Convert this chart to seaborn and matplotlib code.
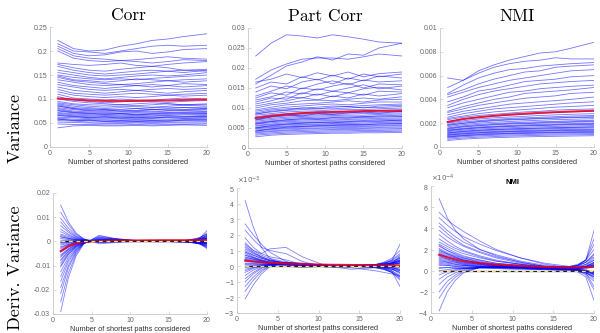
import numpy as np
import pandas as pd
import matplotlib
matplotlib.use("Agg")
import matplotlib.pyplot as plt
import seaborn as sns
from matplotlib.ticker import FuncFormatter, ScalarFormatter

# ---------------- data ----------------
X_TOP = [1, 3, 5, 7, 9, 11, 13, 15, 17, 20]
X_BOT = [1, 2, 3, 4, 6, 8, 11, 14, 17, 18, 19, 20]

# Corr variance (x 1e-3)
CORR_VAR = [
    [222, 205, 200, 202, 210, 215, 222, 225, 230, 236],
    [215, 200, 198, 195, 200, 205, 210, 212, 210, 212],
    [210, 195, 190, 192, 198, 200, 195, 198, 203, 205],
    [205, 190, 185, 183, 180, 182, 185, 188, 185, 183],
    [200, 185, 180, 178, 180, 178, 175, 178, 182, 180],
    [175, 172, 170, 172, 175, 170, 168, 172, 175, 178],
    [172, 165, 160, 158, 162, 165, 168, 165, 160, 162],
    [168, 160, 155, 152, 155, 158, 160, 158, 155, 160],
    [160, 155, 150, 148, 150, 152, 155, 158, 160, 158],
    [155, 150, 145, 142, 145, 148, 150, 148, 150, 155],
    [150, 145, 142, 140, 142, 140, 143, 145, 147, 150],
    [148, 140, 138, 135, 138, 142, 140, 138, 140, 142],
    [145, 138, 135, 132, 130, 132, 135, 138, 135, 138],
    [140, 135, 130, 128, 130, 128, 125, 128, 132, 130],
    [135, 128, 125, 122, 125, 128, 130, 128, 125, 128],
    [130, 125, 120, 118, 120, 118, 120, 122, 120, 122],
    [125, 118, 115, 112, 115, 118, 115, 112, 115, 118],
    [120, 112, 110, 108, 110, 112, 110, 108, 110, 112],
    [115, 108, 105, 103, 105, 103, 105, 108, 106, 108],
    [110, 102, 100, 98, 100, 98, 97, 100, 102, 100],
    [105, 98, 95, 92, 94, 96, 95, 93, 95, 97],
    [100, 95, 92, 90, 88, 90, 92, 90, 88, 90],
    [95, 90, 88, 87, 88, 86, 88, 90, 88, 88],
    [92, 88, 85, 83, 85, 84, 83, 85, 87, 85],
    [90, 85, 82, 80, 82, 80, 82, 83, 82, 83],
    [88, 82, 80, 78, 78, 80, 78, 80, 82, 80],
    [86, 80, 76, 78, 74, 76, 79, 76, 78, 80],
    [85, 80, 78, 76, 77, 75, 77, 78, 77, 78],
    [82, 78, 75, 74, 75, 74, 73, 75, 76, 75],
    [80, 75, 73, 72, 71, 72, 73, 72, 73, 74],
    [78, 73, 71, 70, 70, 69, 70, 71, 70, 72],
    [76, 72, 70, 68, 70, 67, 69, 70, 72, 70],
    [75, 71, 69, 68, 68, 67, 68, 68, 69, 70],
    [72, 69, 67, 66, 65, 66, 65, 66, 67, 68],
    [70, 67, 65, 64, 64, 63, 64, 65, 64, 66],
    [68, 65, 63, 62, 62, 61, 62, 62, 63, 64],
    [66, 64, 61, 63, 60, 62, 60, 63, 62, 64],
    [65, 63, 61, 60, 60, 59, 60, 61, 60, 62],
    [62, 61, 59, 58, 58, 57, 58, 58, 59, 60],
    [60, 58, 57, 56, 55, 56, 55, 56, 57, 58],
    [58, 55, 56, 53, 55, 53, 55, 54, 56, 57],
    [58, 56, 55, 54, 53, 54, 53, 54, 55, 55],
    [55, 54, 52, 52, 51, 52, 51, 52, 52, 53],
    [52, 51, 50, 49, 49, 50, 49, 50, 50, 50],
    [48, 47, 47, 46, 46, 47, 46, 47, 47, 48],
    [40, 44, 45, 44, 44, 45, 44, 45, 46, 45],
]
CORR_VAR_MEAN = [101, 99, 97, 96, 96, 96, 97, 97, 98, 99]

# Part Corr variance (x 1e-4)
PCORR_VAR = [
    [230, 262, 283, 280, 275, 283, 278, 272, 265, 262],
    [160, 182, 205, 215, 228, 220, 235, 232, 250, 262],
    [172, 195, 210, 222, 225, 225, 222, 228, 235, 230],
    [165, 172, 185, 176, 188, 180, 190, 178, 186, 190],
    [150, 165, 160, 178, 170, 182, 172, 185, 178, 185],
    [140, 155, 148, 165, 172, 160, 175, 168, 180, 175],
    [130, 142, 155, 148, 160, 168, 158, 170, 165, 168],
    [125, 138, 132, 150, 145, 155, 162, 150, 160, 158],
    [120, 128, 140, 135, 148, 142, 150, 158, 148, 155],
    [115, 125, 122, 138, 132, 142, 138, 148, 152, 145],
    [110, 118, 128, 125, 135, 128, 138, 132, 142, 140],
    [105, 112, 118, 126, 120, 130, 125, 135, 130, 136],
    [100, 108, 112, 118, 120, 118, 122, 125, 122, 128],
    [95, 102, 108, 110, 112, 115, 118, 115, 120, 122],
    [92, 98, 102, 105, 108, 110, 108, 112, 115, 115],
    [88, 95, 98, 100, 102, 105, 104, 106, 108, 110],
    [85, 92, 95, 100, 98, 102, 104, 100, 105, 107],
    [85, 90, 94, 96, 98, 98, 100, 102, 101, 104],
    [82, 86, 90, 92, 93, 95, 96, 96, 98, 100],
    [78, 83, 86, 88, 90, 90, 92, 93, 94, 96],
    [75, 80, 83, 85, 86, 87, 88, 90, 90, 92],
    [72, 77, 80, 82, 83, 84, 85, 86, 87, 88],
    [70, 78, 82, 80, 86, 84, 88, 90, 87, 92],
    [70, 74, 77, 79, 80, 81, 82, 82, 84, 85],
    [67, 71, 74, 76, 77, 78, 78, 79, 80, 82],
    [64, 68, 71, 73, 74, 75, 75, 76, 77, 78],
    [62, 66, 68, 70, 71, 72, 72, 73, 74, 75],
    [60, 66, 70, 73, 72, 76, 75, 78, 80, 79],
    [60, 63, 66, 67, 68, 69, 70, 70, 71, 72],
    [57, 60, 63, 64, 65, 66, 67, 67, 68, 69],
    [55, 58, 60, 62, 63, 63, 64, 65, 65, 66],
    [52, 55, 58, 59, 60, 61, 61, 62, 63, 63],
    [50, 56, 60, 62, 64, 63, 66, 68, 67, 70],
    [50, 53, 55, 57, 58, 58, 59, 59, 60, 61],
    [48, 51, 53, 54, 55, 56, 56, 57, 57, 58],
    [45, 48, 50, 52, 53, 53, 54, 54, 55, 56],
    [43, 46, 48, 49, 50, 51, 51, 52, 52, 53],
    [42, 48, 52, 54, 56, 57, 58, 58, 60, 61],
    [40, 43, 45, 47, 48, 48, 49, 49, 50, 50],
    [38, 41, 43, 44, 45, 46, 46, 47, 47, 48],
    [35, 38, 40, 41, 42, 43, 43, 44, 44, 45],
    [32, 35, 37, 38, 39, 40, 40, 41, 41, 42],
    [28, 32, 34, 35, 36, 37, 37, 38, 38, 39],
]
PCORR_VAR_MEAN = [75, 80, 84, 87, 89, 90, 91, 92, 93, 93]

# NMI variance (x 1e-5)
NMI_VAR = [
    [580, 560, 640, 690, 730, 760, 790, 800, 830, 880],
    [500, 560, 620, 670, 700, 720, 730, 750, 740, 740],
    [450, 520, 580, 620, 650, 660, 680, 690, 700, 710],
    [440, 480, 530, 570, 600, 630, 640, 670, 680, 690],
    [420, 460, 500, 530, 560, 580, 600, 620, 640, 650],
    [380, 420, 470, 490, 520, 550, 560, 570, 590, 600],
    [350, 400, 440, 470, 490, 510, 530, 540, 550, 560],
    [330, 370, 400, 430, 460, 470, 490, 500, 510, 520],
    [300, 340, 370, 400, 420, 450, 460, 470, 480, 500],
    [290, 320, 350, 370, 390, 410, 420, 430, 450, 460],
    [270, 300, 320, 340, 360, 370, 380, 390, 400, 420],
    [250, 280, 300, 320, 330, 340, 350, 360, 370, 380],
    [240, 260, 280, 295, 305, 315, 325, 335, 340, 350],
    [230, 250, 265, 275, 285, 295, 300, 310, 315, 320],
    [215, 235, 250, 260, 268, 275, 282, 290, 295, 300],
    [200, 220, 235, 245, 252, 258, 265, 270, 275, 280],
    [190, 210, 222, 232, 240, 245, 250, 255, 260, 265],
    [185, 200, 215, 225, 232, 236, 242, 245, 250, 255],
    [180, 198, 210, 220, 227, 232, 238, 242, 246, 250],
    [170, 188, 200, 208, 214, 220, 225, 230, 233, 238],
    [160, 178, 190, 197, 203, 208, 212, 216, 220, 225],
    [155, 172, 182, 190, 198, 200, 205, 210, 212, 218],
    [150, 168, 178, 186, 192, 196, 200, 204, 208, 212],
    [142, 158, 168, 175, 181, 186, 190, 193, 197, 200],
    [140, 152, 162, 170, 175, 180, 183, 188, 190, 195],
    [135, 150, 160, 166, 172, 176, 180, 183, 186, 190],
    [128, 142, 151, 157, 162, 166, 170, 173, 176, 180],
    [120, 134, 142, 148, 153, 157, 160, 163, 166, 170],
    [118, 130, 140, 146, 150, 154, 158, 160, 164, 168],
    [112, 126, 134, 140, 144, 148, 151, 154, 157, 160],
    [105, 118, 126, 131, 135, 139, 142, 145, 148, 150],
    [100, 112, 120, 126, 130, 134, 136, 140, 142, 145],
    [98, 110, 118, 123, 127, 130, 133, 136, 138, 140],
    [90, 102, 110, 115, 118, 122, 125, 127, 130, 132],
    [85, 96, 104, 110, 114, 117, 120, 122, 124, 127],
    [82, 94, 101, 106, 110, 113, 116, 118, 120, 122],
    [75, 86, 93, 98, 101, 104, 107, 109, 111, 113],
    [65, 76, 83, 88, 92, 95, 98, 100, 102, 105],
    [55, 66, 73, 78, 82, 85, 88, 90, 92, 95],
]
NMI_VAR_MEAN = [210, 235, 250, 262, 272, 280, 287, 293, 298, 305]

# Corr derivative of variance (x 1e-4)
CORR_DER = [
    [150, 80, 35, 10, -10, -5, 0, 2, 0, -5, -10, -20],
    [120, 70, 30, 10, -5, -3, 2, 0, -2, 0, 5, 15],
    [95, 55, 25, 8, -5, 0, 3, 2, -2, -5, -8, -15],
    [80, 45, 20, 8, 0, 2, 0, -2, 2, 8, 15, 30],
    [65, 38, 18, 6, -3, -2, 2, 3, 0, -3, -5, -10],
    [50, 30, 14, 5, 0, 2, 3, 0, -2, 2, 10, 25],
    [40, 25, 12, 5, 2, 0, -2, 0, 3, 5, 8, 12],
    [30, 20, 10, 5, 3, 2, 0, -2, 0, -3, -10, -25],
    [25, 15, 8, 4, 2, 0, 2, 3, 2, 5, 12, 35],
    [20, 12, 6, 3, 2, 1, 0, 1, 0, -2, -4, -8],
    [18, 12, 7, 4, 3, 2, 0, 0, -3, -5, -5, 0],
    [12, 8, 5, 3, 2, 3, 2, 0, 0, 3, 8, 20],
    [5, 5, 4, 3, 3, 2, 3, 2, 0, -2, -5, -15],
    [0, 2, 3, 3, 3, 2, 0, 2, 3, 5, 10, 45],
    [-5, -3, 0, 1, 2, 2, 1, 1, 2, 3, 6, 12],
    [-5, -2, 0, 2, 3, 3, 2, 0, 0, 2, 0, -8],
    [-10, -5, -2, 0, 3, 3, 2, 3, 2, 5, 8, 15],
    [-15, -8, -3, 0, 2, 3, 3, 2, 0, -2, -8, -30],
    [-22, -12, -5, -2, 2, 3, 2, 0, 2, 5, 10, 20],
    [-25, -13, -5, -1, 2, 2, 1, 0, 0, -1, -3, -6],
    [-30, -15, -6, -2, 3, 4, 2, 2, 3, 2, 3, 8],
    [-38, -20, -8, -2, 4, 4, 3, 0, -2, -5, -8, -10],
    [-40, -22, -9, -2, 3, 3, 2, 1, 1, 2, 4, 8],
    [-45, -24, -10, -3, 4, 5, 3, 2, 3, 6, 10, 25],
    [-55, -30, -12, -4, 5, 5, 2, 0, 0, 0, -3, -12],
    [-60, -32, -13, -4, 4, 4, 2, 0, 0, 0, -2, -4],
    [-65, -35, -15, -5, 5, 6, 3, 2, 3, 5, 3, 0],
    [-75, -40, -18, -5, 6, 6, 3, 0, -2, -3, -8, -20],
    [-80, -42, -18, -5, 5, 5, 2, 1, 1, 3, 6, 10],
    [-90, -48, -20, -6, 8, 6, 2, 2, 3, 8, 15, 30],
    [-100, -52, -22, -6, 7, 6, 2, 0, 0, -1, -4, -8],
    [-105, -55, -24, -7, 8, 7, 3, 0, 0, -2, -5, -5],
    [-125, -65, -28, -8, 10, 7, 2, 0, 2, 5, 8, 15],
    [-145, -75, -32, -8, 12, 8, 2, 2, 0, -3, -8, -18],
    [-165, -85, -35, -8, 14, 9, 3, 0, -2, 0, 5, 12],
    [-190, -100, -40, -8, 16, 10, 2, 0, 2, 3, 0, -5],
    [-215, -110, -45, -8, 18, 10, 2, 2, 0, -3, -10, -25],
    [-250, -130, -52, -8, 22, 12, 3, 0, 0, 3, 10, 20],
    [-290, -150, -60, -10, 25, 12, 2, 0, 2, 0, -3, -10],
]
CORR_DER_MEAN = [-40, -20, -8, -2, 2, 4, 4, 5, 5, 5, 5, 5]

# Part Corr derivative of variance (x 1e-5)
PCORR_DER = [
    [420, 250, 120, 50, 0, -10, 0, 5, 0, -10, -20, -40],
    [270, 200, 140, 90, 30, 0, 0, 0, 10, 20, 40, 80],
    [230, 170, 120, 100, 80, 30, -10, -5, 10, 15, 20, 30],
    [180, 120, 80, 60, 40, 10, 0, 0, -10, -20, -40, -70],
    [150, 100, 80, 110, 120, 60, 0, -20, -10, 0, 20, 60],
    [140, 100, 70, 50, 25, 10, 5, 0, 0, 5, 10, 20],
    [130, 90, 60, 40, 20, 10, 5, 0, 10, 25, 50, 100],
    [120, 85, 60, 40, 20, 10, 0, 0, -5, -10, -20, -40],
    [110, 80, 55, 35, 15, 5, 0, 5, 0, -10, -30, -60],
    [100, 70, 50, 35, 20, 10, 5, 0, 5, 15, 35, 140],
    [90, 70, 50, 35, 20, 10, 5, 5, 5, 10, 20, 35],
    [90, 60, 40, 25, 10, 5, 0, 5, 10, 20, 30, 50],
    [80, 55, 35, 20, 10, 5, 5, 0, -10, -20, -40, -90],
    [70, 55, 40, 30, 15, 10, 5, 0, 0, -5, -10, -25],
    [70, 50, 35, 25, 15, 10, 5, 5, 5, 10, 20, 40],
    [60, 45, 30, 20, 10, 5, 0, 0, -5, -10, -20, -30],
    [55, 45, 35, 25, 15, 10, 5, 5, 5, 5, 10, 15],
    [50, 40, 30, 20, 15, 10, 5, 5, 10, 15, 25, 60],
    [45, 35, 25, 18, 10, 5, 5, 0, 0, -5, -15, -50],
    [40, 30, 22, 15, 10, 5, 5, 5, 5, 10, 15, 20],
    [35, 30, 25, 20, 12, 8, 5, 0, 0, 0, -5, -10],
    [30, 25, 20, 15, 10, 8, 5, 5, -5, -15, -35, -130],
    [20, 18, 15, 12, 8, 5, 5, 0, 5, 10, 20, 40],
    [15, 15, 12, 10, 8, 5, 5, 5, 5, 10, 15, 30],
    [10, 10, 10, 8, 6, 5, 5, 5, 5, 5, 10, 25],
    [0, 5, 8, 8, 8, 5, 5, 5, 0, -5, -10, -20],
    [-10, 0, 5, 8, 10, 8, 5, 5, 5, 10, 20, 50],
    [-20, -8, 2, 8, 12, 10, 5, 0, 0, -5, -10, -30],
    [-30, -10, 0, 5, 10, 8, 5, 0, 0, -5, -10, -20],
    [-40, -15, 0, 10, 15, 10, 5, 5, 5, 10, 15, 30],
    [-60, -25, -5, 8, 15, 10, 5, 0, -5, -15, -30, -70],
    [-80, -40, -10, 5, 15, 12, 5, 5, 5, 5, 10, 20],
    [-100, -50, -15, 5, 20, 15, 5, 0, 0, 5, 15, 40],
    [-130, -70, -25, 0, 20, 15, 5, 0, -10, -20, -40, -80],
    [-160, -90, -35, 0, 25, 15, 5, 5, 10, 20, 35, 70],
    [-210, -120, -50, -5, 25, 20, 5, -10, -30, -40, -50, -60],
]
PCORR_DER_MEAN = [36, 30, 25, 22, 17, 13, 9, 7, 6, 5, 5, 5]

# NMI derivative of variance (x 1e-6)
NMI_DER = [
    [680, 500, 380, 300, 200, 140, 80, 40, 20, 20, 30, 50],
    [550, 480, 420, 370, 280, 200, 120, 60, 30, 20, 10, -20],
    [500, 430, 370, 320, 250, 190, 120, 70, 40, 60, 100, 200],
    [450, 380, 320, 270, 200, 150, 90, 50, 30, 20, 0, -40],
    [420, 350, 290, 240, 180, 130, 80, 40, 20, 40, 80, 160],
    [380, 320, 270, 230, 170, 120, 70, 40, 30, 30, 40, 80],
    [340, 280, 230, 190, 140, 100, 60, 30, 10, 0, -20, -60],
    [300, 250, 210, 180, 130, 90, 60, 40, 30, 50, 100, 250],
    [270, 230, 190, 160, 120, 90, 60, 30, 20, 10, 0, -30],
    [250, 210, 170, 140, 100, 70, 50, 30, 40, 50, 80, 130],
    [240, 190, 150, 120, 80, 50, 30, 20, 10, 10, 20, 40],
    [230, 190, 160, 130, 100, 70, 50, 30, 20, 10, -10, -80],
    [210, 170, 140, 120, 90, 60, 40, 30, 20, 30, 60, 120],
    [200, 160, 130, 100, 70, 50, 30, 20, 20, 10, 0, -20],
    [190, 160, 130, 110, 80, 60, 40, 30, 30, 30, 40, 50],
    [180, 150, 120, 100, 70, 50, 40, 20, 10, 20, 30, 60],
    [170, 140, 120, 100, 70, 50, 40, 30, 20, 10, -20, -150],
    [160, 130, 100, 80, 60, 40, 30, 20, 10, 0, -10, -40],
    [150, 130, 110, 90, 70, 50, 40, 30, 30, 50, 100, 300],
    [140, 110, 90, 70, 50, 40, 30, 20, 20, 30, 40, 70],
    [130, 110, 90, 80, 60, 50, 40, 30, 20, 20, 30, 60],
    [120, 100, 80, 60, 40, 30, 20, 10, 10, 0, -10, -30],
    [110, 90, 80, 70, 60, 40, 30, 20, 10, 0, -20, -50],
    [100, 80, 60, 50, 40, 30, 20, 20, 20, 20, 30, 40],
    [90, 80, 70, 60, 50, 40, 30, 30, 30, 40, 60, 100],
    [80, 70, 60, 50, 40, 30, 20, 10, 0, -10, -20, -60],
    [70, 60, 50, 50, 40, 40, 30, 20, 20, 10, 0, -30],
    [60, 50, 40, 30, 30, 20, 20, 10, 10, 20, 30, 50],
    [50, 50, 40, 40, 40, 30, 30, 30, 20, 20, 40, 80],
    [30, 30, 20, 20, 20, 20, 10, 10, 0, 0, -10, -20],
    [20, 30, 30, 30, 30, 30, 30, 20, 10, 0, -30, -100],
    [0, 10, 20, 20, 30, 30, 30, 30, 40, 50, 80, 150],
    [-40, -10, 10, 20, 30, 30, 30, 20, 20, 10, 0, -20],
    [-80, -30, 0, 20, 30, 30, 30, 30, 20, 20, 40, 70],
    [-130, -60, -20, 10, 30, 30, 30, 20, 10, 0, -40, -180],
    [-200, -100, -40, 0, 30, 30, 30, 20, 30, 50, 100, 380],
    [-260, -140, -60, -10, 30, 40, 30, 20, 10, -10, -60, -280],
    [-380, -200, -90, -20, 30, 40, 30, 20, 20, 30, 50, 100],
]
NMI_DER_MEAN = [150, 125, 105, 90, 70, 57, 45, 35, 30, 30, 32, 35]

TITLES = ["Corr", "Part Corr", "NMI"]
ROW_LABELS = ["Variance", "Deriv. Variance"]
XLABEL = "Number of shortest paths considered"

# ---------------- drawing ----------------
W, H = 600, 333
fig = plt.figure(figsize=(6, 3.33), dpi=100)

def rect(l, t, r, b):
    return [l / W, 1 - b / H, (r - l) / W, (b - t) / H]

def long_df(x, curves, scale):
    rows = []
    for i, c in enumerate(curves):
        for xv, yv in zip(x, c):
            rows.append((i, xv, yv * scale))
    return pd.DataFrame(rows, columns=["id", "x", "y"])

TICK_FONT = "Liberation Sans"

def style(ax, ylim, yticks, fmt=None):
    ax.set_xlim(0, 20)
    ax.set_xticks([0, 5, 10, 15, 20])
    ax.set_ylim(*ylim)
    ax.set_yticks(yticks)
    for s in ["top", "right"]:
        ax.spines[s].set_visible(False)
    for s in ["left", "bottom"]:
        ax.spines[s].set_color("#c8c8c8")
        ax.spines[s].set_linewidth(0.6)
    ax.tick_params(direction="in", length=2, width=0.5, color="#c8c8c8",
                   labelsize=5, labelcolor="#666666", pad=2)
    for lab in ax.get_xticklabels() + ax.get_yticklabels():
        lab.set_fontfamily(TICK_FONT)
    if fmt is not None:
        ax.yaxis.set_major_formatter(fmt)
    ax.set_xlabel(XLABEL, fontsize=5.3, color="#333333", family=TICK_FONT, labelpad=1.5)
    ax.set_ylabel("")
    ax.set_facecolor("none")

gfmt = FuncFormatter(lambda v, p: "%g" % round(v, 6))

def draw(ax, x, curves, mean, scale, alpha):
    df = long_df(x, curves, scale)
    sns.lineplot(data=df, x="x", y="y", units="id", estimator=None,
                 color="#0000ff", alpha=alpha, lw=0.6, ax=ax, legend=False)
    mdf = pd.DataFrame({"x": x, "y": np.array(mean) * scale})
    sns.lineplot(data=mdf, x="x", y="y", color="#e8001c", alpha=0.85, lw=1.5,
                 ax=ax, legend=False)

def zero_line(ax, x):
    ax.hlines(0, x[0], x[-1], colors="#222222", lw=0.9, zorder=5)
    ax.hlines(0, x[0], x[-1], colors="#f3e27a", lw=0.9, linestyles=(0, (3, 3)), zorder=6)

# top row
a1 = fig.add_axes(rect(50, 27, 207, 147))
draw(a1, X_TOP, CORR_VAR, CORR_VAR_MEAN, 1e-3, 0.55)
style(a1, (0, 0.25), [0, 0.05, 0.1, 0.15, 0.2, 0.25], gfmt)

a2 = fig.add_axes(rect(248, 28, 402, 148))
draw(a2, X_TOP, PCORR_VAR, PCORR_VAR_MEAN, 1e-4, 0.55)
style(a2, (0, 0.03), [0, 0.005, 0.01, 0.015, 0.02, 0.025, 0.03], gfmt)

a3 = fig.add_axes(rect(440, 28, 594, 147))
draw(a3, X_TOP, NMI_VAR, NMI_VAR_MEAN, 1e-5, 0.55)
style(a3, (0, 0.01), [0, 0.002, 0.004, 0.006, 0.008, 0.01], gfmt)

for ax, t in zip([a1, a2, a3], TITLES):
    ax.set_title(t, fontsize=12.5, family="cmr10", pad=5)

# bottom row
b1 = fig.add_axes(rect(53, 193, 207, 314))
draw(b1, X_BOT, CORR_DER, CORR_DER_MEAN, 1e-4, 0.5)
zero_line(b1, X_BOT)
style(b1, (-0.03, 0.02), [-0.03, -0.02, -0.01, 0, 0.01, 0.02], gfmt)

def sci_fmt():
    f = ScalarFormatter(useMathText=True)
    f.set_powerlimits((0, 0))
    return f

b2 = fig.add_axes(rect(237, 188, 400, 313))
draw(b2, X_BOT, PCORR_DER, PCORR_DER_MEAN, 1e-5, 0.5)
zero_line(b2, X_BOT)
style(b2, (-3e-3, 5e-3), np.arange(-3, 6) * 1e-3, sci_fmt())
b2.yaxis.get_offset_text().set_fontsize(5)
b2.yaxis.get_offset_text().set_color("#666666")

b3 = fig.add_axes(rect(431, 186, 594, 313))
draw(b3, X_BOT, NMI_DER, NMI_DER_MEAN, 1e-6, 0.5)
zero_line(b3, X_BOT)
style(b3, (-4e-4, 8e-4), np.arange(-4, 9, 2) * 1e-4, sci_fmt())
b3.yaxis.get_offset_text().set_fontsize(5)
b3.yaxis.get_offset_text().set_color("#666666")
b3.set_title(TITLES[2], fontsize=5.5, fontweight="bold", family=TICK_FONT, pad=0)

# row labels
fig.text(15 / W, 1 - 128 / H, ROW_LABELS[0], rotation=90, fontsize=13,
         family="cmr10", ha="center", va="center")
fig.text(15 / W, 1 - 268 / H, ROW_LABELS[1], rotation=90, fontsize=13,
         family="cmr10", ha="center", va="center")

fig.savefig("out.png", dpi=100)
